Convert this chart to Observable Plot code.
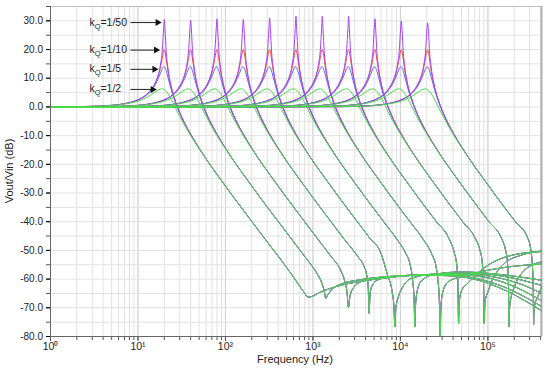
<!DOCTYPE html>
<html><head><meta charset="utf-8">
<script src="https://cdn.jsdelivr.net/npm/d3@7"></script>
<script src="https://cdn.jsdelivr.net/npm/@observablehq/plot@0.6"></script>
<style>
body{margin:0;background:#fff;font-family:"Liberation Sans",Arial,sans-serif}
#chart{width:550px;height:371px}
</style>
</head><body><div id="chart"></div>
<script>
// ---- data ----
const centerFreqs = [20, 40, 80, 160, 320, 640, 1280, 2560, 5120, 10240, 20480];
const seriesNames = ["kQ=1/50", "kQ=1/10", "kQ=1/5", "kQ=1/2"];
const seriesColors = ["#a443f2", "#f04a4a", "#5a6cf0", "#46dc46"];
// frequency / centre-frequency ratios of the resonance region
const ratios = [0.1, 0.2, 0.3, 0.4, 0.5, 0.6, 0.7, 0.8, 0.85, 0.9, 0.95, 0.98, 1, 1.02, 1.05, 1.1, 1.2, 1.3, 1.5, 1.7, 2, 2.5, 3];
const shapeQ50 = [0.1, 0.4, 0.8, 1.5, 2.5, 3.9, 5.9, 8.9, 11.1, 14.4, 20.1, 27.1, null, 26.9, 19.6, 13.6, 7.1, 3.2, -1.9, -5.5, -9.5, -14.4, -18.1];
const shapeQ10 = [0.1, 0.4, 0.8, 1.5, 2.5, 3.8, 5.8, 8.7, 10.7, 13.5, 17.3, 19.5, 20.0, 19.2, 16.7, 12.5, 6.8, 3.1, -2.0, -5.6, -9.6, -14.4, -18.1];
const shapeQ5  = [0.1, 0.3, 0.8, 1.5, 2.4, 3.7, 5.5, 8.1, 9.8, 11.6, 13.4, 14.0, 14.0, 13.6, 12.6, 10.3, 6.0, 2.7, -2.2, -5.7, -9.6, -14.4, -18.1];
const shapeQ2  = [0.1, 0.3, 0.7, 1.3, 2.0, 3.0, 4.2, 5.4, 5.9, 6.2, 6.3, 6.2, 6.0, 5.8, 5.4, 4.6, 2.6, 0.5, -3.3, -6.3, -10.0, -14.6, -18.2];
// peak heights of the kQ=1/50 curves
const peaksQ50 = [30.5, 30.2, 30.7, 30.5, 31.0, 31.6, 31.6, 31.6, 30.7, 30.0, 29.3];
// stop-band tails (Hz, dB), shared by the four kQ curves of each filter
const tail1  = [[80,-23.5],[120,-30.9],[200,-39.9],[280,-45.8],[400,-52],[560,-58],[700,-62.3],[800,-64.8],[879,-66.3],[960,-66.1],[1200,-64.6],[1600,-63.2],[2100,-62.1],[3500,-60.8],[6000,-59.8],[17000,-58.6],[40000,-58.9],[80000,-60.5],[160000,-64],[410000,-71]];
const tail2  = [[160,-23.5],[240,-30.9],[400,-39.9],[560,-45.8],[800,-52],[1100,-57.8],[1250,-61],[1350,-64.3],[1400,-66.7],[1470,-65.6],[1650,-63.6],[2200,-61.5],[3200,-60.4],[6000,-59.3],[17000,-58.7],[40000,-58.7],[80000,-60],[160000,-63],[410000,-69.5]];
const tail3  = [[320,-23.5],[480,-30.9],[800,-39.9],[1120,-45.8],[1600,-52],[2080,-57],[2300,-60.5],[2450,-64.5],[2547,-69.8],[2650,-66],[2900,-63],[3500,-61],[5000,-59.7],[12000,-58.8],[40000,-58.4],[90000,-59.3],[180000,-62],[410000,-67.5]];
const tail4  = [[640,-23.5],[960,-30.9],[1600,-39.9],[2240,-45.8],[3200,-51.8],[3800,-55.3],[4100,-58.3],[4280,-62.5],[4385,-71.9],[4500,-65],[4800,-62],[5600,-60.2],[8000,-59.2],[20000,-58.4],[60000,-58.3],[130000,-59.5],[250000,-62],[410000,-65]];
const tail5  = [[1280,-23.5],[1920,-30.9],[3200,-39.9],[4480,-45.8],[6000,-51],[7100,-58.5],[8000,-64],[8450,-70],[8630,-76.6],[8850,-70.5],[9400,-66.5],[10300,-63.5],[13400,-59.7],[25000,-58.2],[60000,-57.9],[150000,-59],[410000,-62.2]];
const tail6  = [[2560,-23.5],[3840,-30.9],[6400,-39.9],[8960,-45.8],[11500,-51],[12800,-54.5],[13800,-60.5],[14350,-67.5],[14620,-76.7],[14900,-69],[15600,-64],[17500,-60.5],[25000,-58.3],[50000,-57.5],[120000,-58.2],[410000,-60.4]];
const tail7  = [[5120,-23.5],[7680,-30.9],[12800,-39.9],[17900,-45.8],[23000,-51.5],[25500,-55.5],[27000,-61],[27900,-68],[28460,-80],[29000,-70],[30500,-64.5],[35000,-61],[49000,-59.2],[90000,-57.2],[200000,-55.5],[410000,-54.8]];
const tail8  = [[10240,-23.5],[15360,-30.9],[25600,-39.9],[35800,-45.8],[41000,-50.5],[44000,-55],[45500,-62],[46200,-75.5],[47000,-68],[50000,-64],[58600,-61.5],[100000,-55.2],[200000,-51.5],[410000,-50.4]];
const tail9  = [[20480,-23.5],[30720,-30.9],[51200,-39.9],[71700,-45.8],[80000,-49.3],[86000,-54],[89300,-61.5],[90750,-75.4],[92500,-68],[100000,-64.5],[108000,-61.6],[153700,-54.6],[238600,-51.7],[410000,-50.2]];
const tail10 = [[40960,-23.5],[61440,-30.9],[102400,-39.9],[143000,-45.8],[158000,-49.5],[167000,-54],[172000,-62],[174000,-76.6],[177000,-70],[185000,-66],[200000,-62.8],[260000,-57],[410000,-54]];
const tail11 = [[81920,-23.5],[122880,-30.9],[204800,-39.9],[286700,-45.8],[310000,-50],[322000,-55],[330000,-63],[333000,-75.9],[337000,-71],[350000,-68],[370000,-66.3],[410000,-62.8]];
const yTickLabels = [30, 20, 10, 0, -10, -20, -30, -40, -50, -60, -70, -80];
const xTickLabels = ["10\u2070", "10\u00b9", "10\u00b2", "10\u00b3", "10\u2074", "10\u2075"];
const xDecades = [1, 10, 100, 1000, 10000, 100000];
const annotY = [29.4, 19.8, 13.1, 6.1];
const arrowEnd = [17.3, 16.6, 15.9, 15.2];

// ---- build table ----
const tails = [tail1, tail2, tail3, tail4, tail5, tail6, tail7, tail8, tail9, tail10, tail11];
const shapes = [shapeQ50, shapeQ10, shapeQ5, shapeQ2];
const rows = [];
centerFreqs.forEach((fc, i) => {
  shapes.forEach((shape, j) => {
    const key = i + "-" + j;
    rows.push({key, s: j, f: 1, db: 0});
    ratios.forEach((r, k) => {
      const f = fc * r;
      if (f <= 1) return;
      const v = shape[k] === null ? peaksQ50[i] : shape[k];
      rows.push({key, s: j, f, db: v});
    });
    tails[i].forEach(([f, db]) => rows.push({key, s: j, f, db}));
  });
});

const minorX = [];
for (const d of xDecades) for (let m = 1; m <= 9; m++) if (d * m <= 4.1e5) minorX.push(d * m);
const gridY = d3.range(-80, 36, 5);
const labelOf = d => xTickLabels[Math.round(Math.log10(d))];

const order = [1, 2, 0, 3];
const lineMarks = order.map(j => Plot.line(rows.filter(d => d.s === j), {
  x: "f", y: "db", z: "key", stroke: seriesColors[j], strokeWidth: 1, curve: "monotone-x"
}));

const plot = Plot.plot({
  width: 550, height: 371,
  marginLeft: 50, marginRight: 9, marginTop: 6, marginBottom: 35,
  style: {fontFamily: "'Liberation Sans', Arial, sans-serif", fontSize: "10px", background: "#fff"},
  x: {type: "log", domain: [1, 4.1e5], axis: null},
  y: {domain: [-80, 35], axis: null},
  marks: [
    Plot.ruleX(minorX, {stroke: "#e2e2e2", strokeWidth: 1}),
    Plot.ruleX(xDecades, {stroke: "#d0d0d0", strokeWidth: 1}),
    Plot.ruleY(gridY, {stroke: "#e2e2e2", strokeWidth: 1}),
    Plot.frame({stroke: "#bdbdbd"}),
    Plot.ruleX([4.1e5], {stroke: "#b0b0b0", strokeWidth: 2}),
    ...lineMarks,
    Plot.axisX(minorX, {tickSize: 4, tickFormat: () => "", label: null, stroke: "#555"}),
    Plot.axisX(xDecades, {tickSize: 5, tickFormat: labelOf, fontSize: 10.5, tickPadding: 1, label: null, stroke: "#555", fill: "#222"}),
    Plot.axisY(gridY, {tickSize: 4, tickFormat: () => "", label: null, stroke: "#555"}),
    Plot.axisY(yTickLabels, {tickSize: 4, tickFormat: d => d.toFixed(1), fontSize: 10, label: null, fill: "#222", tickPadding: 3.5}),
    Plot.ruleX([1], {stroke: "#666"}),
    Plot.ruleY([-80], {stroke: "#666"}),
    Plot.link(annotY, {x1: 8.2, x2: (d, i) => arrowEnd[i] * 0.93, y1: d => d, y2: d => d, stroke: "#222", strokeWidth: 1}),
    Plot.dot(annotY, {x: (d, i) => arrowEnd[i] * 0.97, y: d => d, symbol: "triangle", r: 2.6, fill: "#111", stroke: "none", rotate: 90})
  ]
});
document.getElementById("chart").appendChild(plot);

// text annotations with subscript Q, axis titles
const svg = d3.select(plot);
const sx = plot.scale("x"), sy = plot.scale("y");
seriesNames.forEach((name, i) => {
  const t = svg.append("text").attr("x", sx.apply(2.82)).attr("y", sy.apply(annotY[i]) + 3.5)
    .attr("text-anchor", "start").attr("font-size", 10.5).attr("fill", "#222");
  t.append("tspan").text("k");
  t.append("tspan").attr("font-size", 7.5).attr("dy", 3).text("Q");
  t.append("tspan").attr("dy", -3).text(name.slice(2));
});
svg.append("text").attr("x", 295).attr("y", 363).attr("text-anchor", "middle")
  .attr("font-size", 11).attr("fill", "#222").text("Frequency (Hz)");
svg.append("text").attr("transform", "translate(13,171) rotate(-90)").attr("text-anchor", "middle")
  .attr("font-size", 11).attr("fill", "#222").text("Vout/Vin (dB)");
</script>
</body></html>
